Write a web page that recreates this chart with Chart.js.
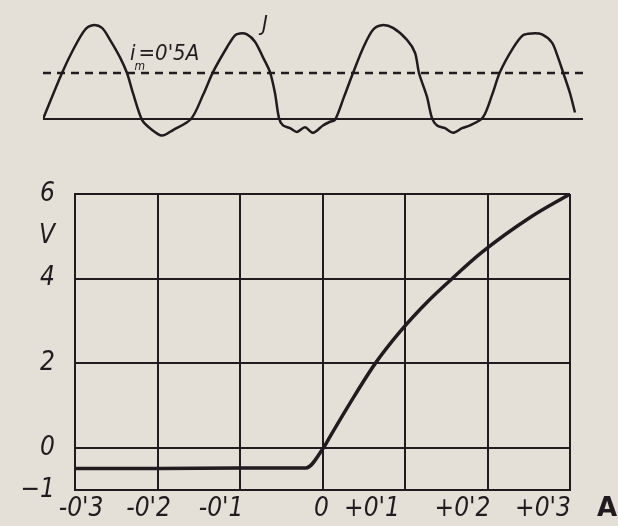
<!DOCTYPE html>
<html>
<head>
<meta charset="utf-8">
<script src="https://cdn.jsdelivr.net/npm/chart.js@4"></script>
<style>
  body { margin: 0; background: #e4e0d7; }
  #wrap { position: relative; width: 618px; height: 526px; }
  canvas { position: absolute; left: 0; top: 0; }
</style>
</head>
<body>
<div id="wrap">
  <canvas id="waveChart" width="618" height="526"></canvas>
  <canvas id="charChart" width="618" height="526"></canvas>
</div>
<script>
const INK = "#211a1e";
const FONT = "'DejaVu Sans Condensed', 'DejaVu Sans', sans-serif";

// oscillogram of the current J (arbitrary time units, current in A)
const waveT = [0, 19, 30, 42, 50, 59, 67, 77, 84, 90, 99, 107, 119, 130, 148,
  160, 170, 184, 192, 197, 204, 212, 220, 227, 232, 236, 240, 247, 254, 262, 270, 280, 287, 292,
  301, 310, 320, 330, 339, 350, 364, 372, 376, 384, 389, 394, 402, 410, 419, 427, 440,
  449, 457, 470, 480, 489, 499, 509, 515, 520, 527, 532];
const waveI = [0, 0.50, 0.75, 0.97, 1.02, 0.99, 0.86, 0.67, 0.50, 0.28, -0.01, -0.10, -0.18, -0.12, 0.0,
  0.26, 0.51, 0.78, 0.91, 0.93, 0.92, 0.84, 0.67, 0.51, 0.28, 0.01, -0.07, -0.10, -0.14, -0.09, -0.15, -0.07, -0.03, -0.01,
  0.24, 0.50, 0.77, 0.97, 1.02, 0.99, 0.86, 0.72, 0.50, 0.24, 0.01, -0.07, -0.10, -0.15, -0.10, -0.07, 0.02,
  0.26, 0.51, 0.77, 0.91, 0.93, 0.92, 0.83, 0.67, 0.51, 0.28, 0.07];
const waveSpan = [0, 540];
const meanCurrent = 0.5;

// voltage vs current characteristic
const currentA = [-0.3, -0.2, -0.1, -0.04, -0.02, 0, 0.01, 0.033, 0.064, 0.094, 0.127, 0.157, 0.193, 0.252, 0.3];
const voltageV = [-0.48, -0.48, -0.47, -0.47, -0.47, -0.03, 0.3, 1.05, 2.0, 2.75, 3.45, 4.0, 4.62, 5.45, 6.0];

const xTickValues = [-0.3, -0.2, -0.1, 0, 0.1, 0.2, 0.3];
const xTickLabels = ["-0'3", "-0'2", "-0'1", "0", "+0'1", "+0'2", "+0'3"];
const xUnit = "A";
const yTickValues = [-1, 0, 2, 4, 5, 6];
const yTickLabels = ["\u22121", "0", "2", "4", "V", "6"];

// ---- top: oscillogram ----
const waveLabels = {
  id: "waveLabels",
  afterDraw(chart) {
    const { ctx, scales: { x, y } } = chart;
    ctx.save();
    ctx.fillStyle = INK;
    ctx.textBaseline = "middle";
    // i_m = 0'5A
    let px = x.getPixelForValue(87), py = y.getPixelForValue(0.70);
    ctx.font = "italic 22px " + FONT;
    ctx.fillText("i", px, py);
    px += ctx.measureText("i").width;
    ctx.font = "italic 12px " + FONT;
    ctx.fillText("m", px - 1, py + 12);
    ctx.font = "italic 22px " + FONT;
    ctx.fillText("=0'5A", px + 3, py);
    // J
    ctx.fillText("J", x.getPixelForValue(219), y.getPixelForValue(1.02));
    ctx.restore();
  }
};

new Chart(document.getElementById("waveChart"), {
  type: "line",
  data: {
    datasets: [
      {
        data: waveT.map((t, i) => ({ x: t, y: waveI[i] })),
        borderColor: INK,
        borderWidth: 2.5,
        pointRadius: 0,
        tension: 0.3,
      },
      {
        data: waveSpan.map((t) => ({ x: t, y: 0 })),
        borderColor: INK,
        borderWidth: 2,
        pointRadius: 0,
      },
      {
        data: waveSpan.map((t) => ({ x: t, y: meanCurrent })),
        borderColor: INK,
        borderWidth: 2.5,
        borderDash: [8, 6],
        pointRadius: 0,
      },
    ],
  },
  options: {
    responsive: false,
    devicePixelRatio: 1,
    animation: false,
    layout: { padding: { left: 43, right: 35, top: 8.6, bottom: 370.2 } },
    plugins: { legend: { display: false }, tooltip: { enabled: false } },
    scales: {
      x: { type: "linear", display: false, min: 0, max: 540 },
      y: { display: false, min: -0.4, max: 1.2 },
    },
  },
  plugins: [waveLabels],
});

// ---- bottom: characteristic ----
const xLabelShift = [6, -9, -19, -1, -33, -25, -27];
const xLabels = {
  id: "xLabels",
  afterDraw(chart) {
    const { ctx, scales: { x } } = chart;
    ctx.save();
    ctx.fillStyle = INK;
    ctx.textAlign = "center";
    ctx.textBaseline = "middle";
    ctx.font = "italic 26px " + FONT;
    xTickValues.forEach((v, i) => {
      ctx.fillText(xTickLabels[i], x.getPixelForValue(v) + xLabelShift[i], 509);
    });
    ctx.font = "bold 26px 'DejaVu Sans', sans-serif";
    ctx.fillText(xUnit, 607, 509);
    ctx.restore();
  }
};

new Chart(document.getElementById("charChart"), {
  type: "line",
  data: {
    datasets: [
      {
        data: currentA.map((a, i) => ({ x: a, y: voltageV[i] })),
        borderColor: INK,
        borderWidth: 3.5,
        pointRadius: 0,
        cubicInterpolationMode: "monotone",
      },
    ],
  },
  options: {
    responsive: false,
    devicePixelRatio: 1,
    animation: false,
    layout: { padding: { left: 0, right: 48, top: 194, bottom: 0 } },
    plugins: { legend: { display: false }, tooltip: { enabled: false } },
    scales: {
      x: {
        type: "linear",
        min: -0.3,
        max: 0.3,
        afterBuildTicks: (s) => { s.ticks = xTickValues.map((v) => ({ value: v })); },
        afterFit: (s) => { s.height = 33; },
        ticks: { display: false },
        grid: { color: INK, lineWidth: 2, drawTicks: false },
        border: { color: INK, width: 2 },
      },
      y: {
        min: -1,
        max: 6,
        afterBuildTicks: (s) => { s.ticks = yTickValues.map((v) => ({ value: v })); },
        afterFit: (s) => { s.width = 75; },
        ticks: {
          color: INK,
          padding: 20,
          font: { family: FONT, size: 26, style: "italic" },
          callback: (v) => yTickLabels[yTickValues.indexOf(v)],
        },
        grid: {
          color: (c) => (c.tick && c.tick.value === 5 ? "rgba(0,0,0,0)" : INK),
          lineWidth: 2,
          drawTicks: false,
        },
        border: { color: INK, width: 2 },
      },
    },
  },
  plugins: [xLabels],
});
</script>
</body>
</html>
